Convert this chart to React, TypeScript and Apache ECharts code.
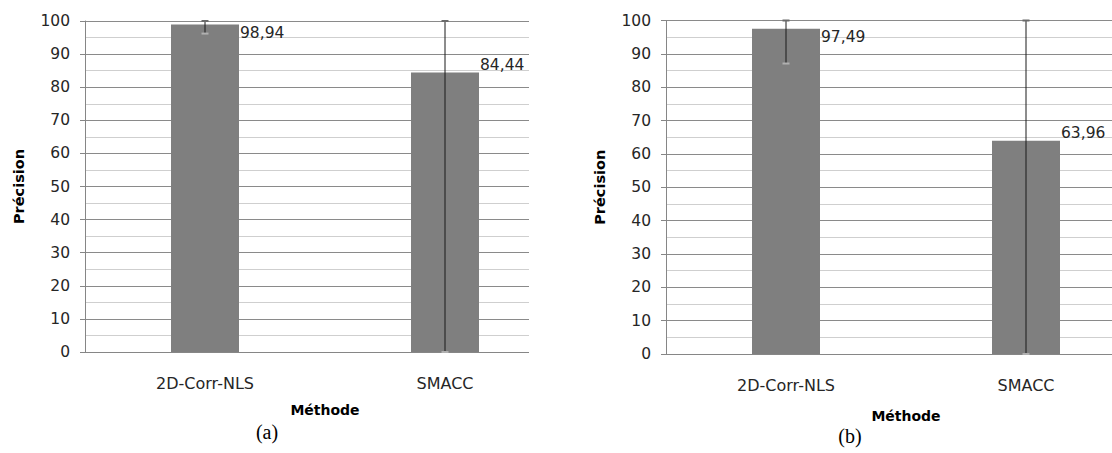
import React, { useEffect, useRef } from "react";
import * as echarts from "echarts";

const categories = ["2D-Corr-NLS", "SMACC"];
const yTicks = [0, 100, 10];

const leftValues = [98.94, 84.44];
const leftErrLow = [96.2, 0];
const leftErrHigh = [100, 100];

const rightValues = [97.49, 63.96];
const rightErrLow = [87.1, 0];
const rightErrHigh = [100, 100];

const xTitle = "Méthode";
const yTitle = "Précision";
const captions = ["(a)", "(b)"];

const FONT = "DejaVu Sans";
const BAR = "#7f7f7f";
const AXIS = "#868686";

function fmt(v: number) {
  return v.toFixed(2).replace(".", ",");
}

export default function App() {
  const ref = useRef<HTMLDivElement>(null);
  useEffect(() => {
    if (!ref.current) return;
    const chart = echarts.init(ref.current, undefined, { renderer: "svg" });

    const grids = [
      { left: 85, top: 21, width: 480, height: 331 },
      { left: 666, top: 20.5, width: 480, height: 333.5 },
    ];

    const xAxis = grids.map((_, i) => ({
      type: "category",
      gridIndex: i,
      data: categories,
      axisLine: { show: true, lineStyle: { color: AXIS, width: 1 } },
      axisTick: { show: false },
      axisLabel: { color: "#262626", fontFamily: FONT, fontSize: 16, margin: 23 },
      name: xTitle,
      nameLocation: "middle",
      nameGap: i === 0 ? 51 : 55,
      nameTextStyle: { color: "#000", fontFamily: FONT, fontSize: 14, fontWeight: "bold" },
    }));

    const yAxis = grids.map((_, i) => ({
      type: "value",
      gridIndex: i,
      min: yTicks[0],
      max: yTicks[1],
      interval: yTicks[2],
      axisLine: { show: true, lineStyle: { color: AXIS, width: 1 } },
      axisTick: { show: true, length: 5, lineStyle: { color: AXIS } },
      axisLabel: { color: "#262626", fontFamily: FONT, fontSize: 15.5, margin: 15 },
      splitLine: { show: true, lineStyle: { color: "#8a8a8a", width: 1 } },
      minorTick: { show: false, splitNumber: 2 },
      minorSplitLine: { show: true, lineStyle: { color: "#cfcfcf", width: 1 } },
      name: yTitle,
      nameLocation: "middle",
      nameRotate: 90,
      nameGap: 59,
      nameTextStyle: { color: "#000", fontFamily: FONT, fontSize: 14.5, fontWeight: "bold" },
    }));

    const sets = [
      { values: leftValues, lo: leftErrLow, hi: leftErrHigh },
      { values: rightValues, lo: rightErrLow, hi: rightErrHigh },
    ];

    const series: any[] = [];
    sets.forEach((s, i) => {
      series.push({
        type: "bar",
        xAxisIndex: i,
        yAxisIndex: i,
        barWidth: 68,
        itemStyle: { color: BAR },
        data: s.values.map((v) => ({
          value: v,
          label: {
            show: true,
            position: [69, v > 95 ? 0 : -16],
            formatter: (p: any) => fmt(p.value),
            color: "#262626",
            fontFamily: FONT,
            fontSize: 15.5,
          },
        })),
      });
      series.push({
        type: "custom",
        xAxisIndex: i,
        yAxisIndex: i,
        z: 10,
        data: categories.map((_, k) => [k, s.lo[k], s.hi[k]]),
        encode: { x: 0, y: [1, 2] },
        renderItem: (params: any, api: any) => {
          const x = api.coord([api.value(0), 0])[0];
          const lo = api.coord([api.value(0), api.value(1)])[1];
          const hi = api.coord([api.value(0), api.value(2)])[1];
          return {
            type: "group",
            children: [
              { type: "line", shape: { x1: x, y1: hi, x2: x, y2: lo }, style: { stroke: "#1a1a1a", lineWidth: 1 } },
              { type: "line", shape: { x1: x - 3.5, y1: hi, x2: x + 3.5, y2: hi }, style: { stroke: "#6a6a6a", lineWidth: 2 } },
              { type: "line", shape: { x1: x - 3.5, y1: lo, x2: x + 3.5, y2: lo }, style: { stroke: "#b0b0b0", lineWidth: 2 } },
            ],
          };
        },
      });
    });

    chart.setOption({
      animation: false,
      backgroundColor: "#fff",
      grid: grids,
      xAxis,
      yAxis,
      series,
      graphic: [
        { type: "rect", z: 100, shape: { x: 529, y: 0, width: 50, height: 360 }, style: { fill: "#fff" } },
        {
          type: "text", z: 101, x: 267, y: 432,
          style: { text: captions[0], fill: "#000", font: "20px 'Liberation Serif'", align: "center", verticalAlign: "middle" },
        },
        {
          type: "text", z: 101, x: 850, y: 436,
          style: { text: captions[1], fill: "#000", font: "20px 'Liberation Serif'", align: "center", verticalAlign: "middle" },
        },
      ],
    });
    return () => chart.dispose();
  }, []);
  return (
    <div style={{ position: "absolute", left: 0, top: 0, width: 1112, height: 453, overflow: "hidden" }}>
      <div ref={ref} style={{ width: 1160, height: 453 }} />
    </div>
  );
}
